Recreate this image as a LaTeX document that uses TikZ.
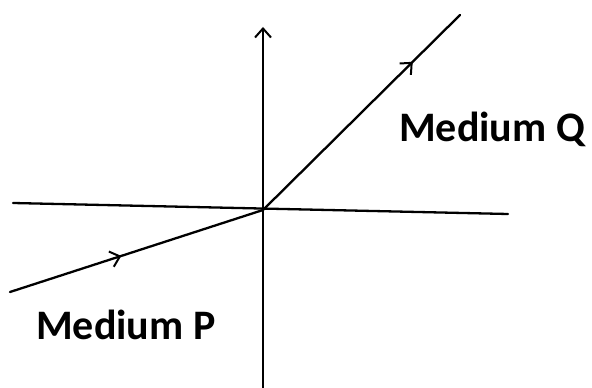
\documentclass[tikz,border=0pt]{standalone}
\usepackage{fontspec}
\setmainfont{Carlito}
\usetikzlibrary{arrows.meta,decorations.markings}
\tikzset{
  ray/.style={line width=2.3pt, line cap=round},
  tipstyle/.style={},
  midarrow/.style={postaction={decorate},decoration={markings,
    mark=at position #1 with {\arrow{Straight Barb[length=9pt,width=16pt,line width=2pt]}}}},
  lbl/.style={font=\bfseries\fontsize{42}{46}\selectfont, inner sep=0pt}
}
\begin{document}
\begin{tikzpicture}[x=1pt,y=1pt]
\useasboundingbox (0,0) rectangle (592,388);
\coordinate (O) at (263,178);
\coordinate (top) at (263,361);
\coordinate (bot) at (263,0);
\coordinate (L) at (13,185);
\coordinate (R) at (508,174);
\coordinate (inc) at (10,96);
\coordinate (refr) at (460,373);
\draw[ray] (L) -- (R);
\draw[ray, -{Straight Barb[length=9pt,width=16pt,line width=2pt]}] (bot) -- (top);
\draw[ray, midarrow=0.44] (inc) -- (O);
\draw[ray, midarrow=0.76] (O) -- (refr);
\node[lbl, anchor=base west] (q) at (399,246) {Medium Q};
\node[lbl, anchor=base west] (p) at (36,48) {Medium P};
\end{tikzpicture}
\end{document}
